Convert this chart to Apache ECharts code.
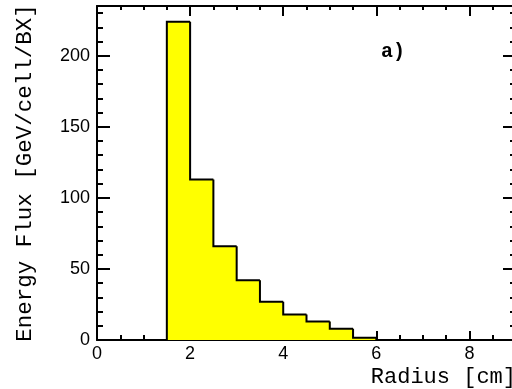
<!DOCTYPE html>
<html>
<head>
<meta charset="utf-8">
<script src="https://cdn.jsdelivr.net/npm/echarts@6/dist/echarts.min.js"></script>
<style>
html, body { margin: 0; padding: 0; background: #fff; }
#chart { width: 512px; height: 389px; }
</style>
</head>
<body>
<div id="chart"></div>
<script>
// histogram bins (radius in cm) and energy flux per bin
var binEdges = [1.5, 2, 2.5, 3, 3.5, 4, 4.5, 5, 5.5, 6];
var flux = [224, 113, 66, 42, 27, 18, 13, 8, 1.5];

var xRange = [0, 9];
var yRange = [0, 235];
var xMajor = 2, xMinor = 0.5;
var yMajor = 50, yMinor = 10;

var labelFont = 'Liberation Sans';
var monoFont = 'Liberation Mono';

var myChart = echarts.init(document.getElementById('chart'));

var gridBox = { left: 97, right: -4, top: 6, bottom: 49, containLabel: false, outerBoundsMode: 'none' };

var axisLine = { show: true, onZero: false, lineStyle: { color: '#000', width: 2 } };
var noLine = { show: false, onZero: false };

var xAxis = function(grid, pos, step, len, labels){
    return {
        type: 'value',
        gridIndex: grid,
        position: pos,
        min: xRange[0],
        max: xRange[1],
        interval: step,
        axisLine: grid === 0 ? axisLine : noLine,
        axisTick: { show: true, inside: true, length: len, lineStyle: { color: '#000', width: 2 } },
        axisLabel: labels ? {
            show: true, showMaxLabel: false, margin: 5,
            color: '#000', fontSize: 18, fontFamily: labelFont
        } : { show: false },
        splitLine: { show: false }
    };
};

var yAxis = function(grid, pos, step, len, labels){
    var a = {
        type: 'value',
        gridIndex: grid,
        position: pos,
        min: yRange[0],
        max: yRange[1],
        interval: step,
        axisLine: grid === 0 ? axisLine : noLine,
        axisTick: { show: true, inside: true, length: len, lineStyle: { color: '#000', width: 2 } },
        axisLabel: labels ? {
            show: true, showMaxLabel: false, margin: 7,
            color: '#000', fontSize: 18, fontFamily: labelFont
        } : { show: false },
        splitLine: { show: false }
    };
    if (labels) {
        a.name = 'Energy Flux [GeV/cell/BX]';
        a.nameLocation = 'middle';
        a.nameGap = 60;
        a.nameTextStyle = { color: '#000', fontSize: 22.5, fontFamily: monoFont, padding: [0, 0, 0, 0] };
    }
    return a;
};

var histData = flux.map(function(v, i){ return [binEdges[i], binEdges[i + 1], v]; });

var renderBin = function(params, api){
    var i = params.dataIndex;
    var x0 = api.value(0), x1 = api.value(1), v = api.value(2);
    var prev = i > 0 ? flux[i - 1] : 0;
    var p00 = api.coord([x0, 0]);
    var p0v = api.coord([x0, v]);
    var p1v = api.coord([x1, v]);
    var p10 = api.coord([x1, 0]);
    var p0p = api.coord([x0, prev]);
    var pts = [p0p, p0v, p1v];
    if (i === flux.length - 1) pts.push(p10);
    return {
        type: 'group',
        children: [
            {
                type: 'rect',
                shape: { x: p00[0] - 0.5, y: p0v[1], width: p10[0] - p00[0] + 1, height: p00[1] - p0v[1] },
                style: { fill: '#ffff00', stroke: null }
            },
            {
                type: 'polyline',
                z2: 2,
                shape: { points: pts },
                style: { stroke: '#000', lineWidth: 2, fill: null }
            }
        ]
    };
};

var option = {
    animation: false,
    backgroundColor: '#fff',
    grid: [
        Object.assign({}, gridBox),
        Object.assign({}, gridBox)
    ],
    xAxis: [
        xAxis(0, 'bottom', xMajor, 9, true),
        xAxis(0, 'top', xMajor, 10, false),
        xAxis(1, 'bottom', xMinor, 5, false),
        xAxis(1, 'top', xMinor, 4, false)
    ],
    yAxis: [
        yAxis(0, 'left', yMajor, 13, true),
        yAxis(0, 'right', yMajor, 13, false),
        yAxis(1, 'left', yMinor, 6, false),
        yAxis(1, 'right', yMinor, 6, false)
    ],
    series: [{
        type: 'custom',
        xAxisIndex: 0,
        yAxisIndex: 0,
        z: 1,
        renderItem: renderBin,
        data: histData
    }],
    graphic: [
        {
            type: 'text', left: 381, top: 42,
            style: { text: 'a)', fill: '#000', font: 'bold 20px "Liberation Mono"' }
        },
        {
            type: 'text', right: -4, top: 366,
            style: { text: 'Radius [cm]', fill: '#000', font: '22px "Liberation Mono"' }
        }
    ]
};

myChart.setOption(option);
</script>
</body>
</html>
